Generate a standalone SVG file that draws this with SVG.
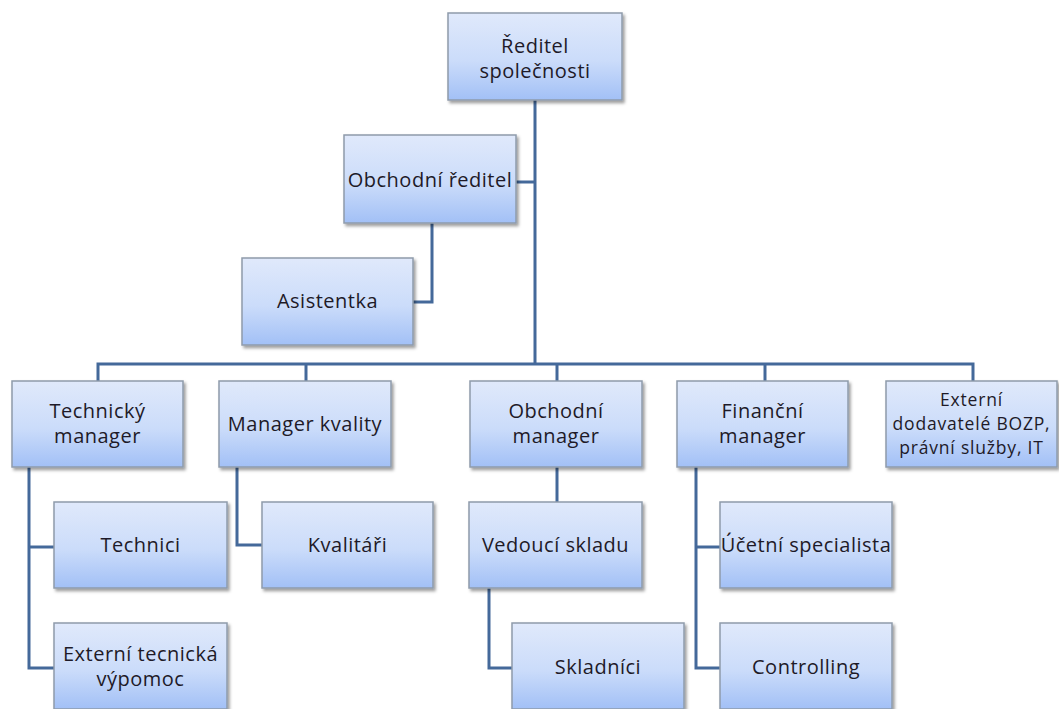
<svg xmlns="http://www.w3.org/2000/svg" width="1059" height="709" viewBox="0 0 1059 709">
  <defs>
    <linearGradient id="g" x1="0" y1="0" x2="0" y2="1">
      <stop offset="0" stop-color="#e0e9fb"/>
      <stop offset="0.55" stop-color="#cbdcfa"/>
      <stop offset="1" stop-color="#a2c0f6"/>
    </linearGradient>
    <filter id="sh" x="-10%" y="-10%" width="125%" height="130%">
      <feDropShadow dx="2" dy="2.5" stdDeviation="1.8" flood-color="#000" flood-opacity="0.38"/>
    </filter>
  </defs>
  <style>
    .box{fill:url(#g);stroke:#8e9bab;stroke-width:1.5;filter:url(#sh)}
    .t{font-family:"Open Sans","Liberation Sans",sans-serif;font-size:20px;letter-spacing:0.5px;fill:#1e1a28;text-anchor:middle}
    .t3{font-size:17.5px;letter-spacing:0.8px}
    .c{fill:none;stroke:#44699a;stroke-width:3}
  </style>
  <rect width="1059" height="709" fill="#ffffff"/>
  <g id="connectors">
    <path class="c" d="M535 100V364"/>
    <path class="c" d="M516 182H535"/>
    <path class="c" d="M432 223V302H413"/>
    <path class="c" d="M98 381V364H973V381"/>
    <path class="c" d="M306 364V381"/>
    <path class="c" d="M557 364V381"/>
    <path class="c" d="M765 364V381"/>
    <path class="c" d="M29 467V668H54"/>
    <path class="c" d="M29 547H54"/>
    <path class="c" d="M237 467V545H262"/>
    <path class="c" d="M557 467V502"/>
    <path class="c" d="M489 588V668H512"/>
    <path class="c" d="M696 467V668H720"/>
    <path class="c" d="M696 547H720"/>
  </g>
  <g id="n-reditel">
    <rect class="box" x="448" y="13" width="174" height="87"/>
    <text class="t" x="535" y="53">Ředitel</text>
    <text class="t" x="535" y="78">společnosti</text>
  </g>
  <g id="n-obchodni-reditel">
    <rect class="box" x="344" y="135" width="172" height="88"/>
    <text class="t" x="430" y="187">Obchodní ředitel</text>
  </g>
  <g id="n-asistentka">
    <rect class="box" x="242" y="258" width="171" height="87"/>
    <text class="t" x="327.5" y="308">Asistentka</text>
  </g>
  <g id="n-technicky">
    <rect class="box" x="12" y="381" width="171" height="86"/>
    <text class="t" x="97.5" y="418">Technický</text>
    <text class="t" x="97.5" y="443">manager</text>
  </g>
  <g id="n-kvalita">
    <rect class="box" x="219" y="381" width="172" height="86"/>
    <text class="t" x="305" y="431">Manager kvality</text>
  </g>
  <g id="n-obchodni-manager">
    <rect class="box" x="470" y="381" width="172" height="86"/>
    <text class="t" x="556" y="418">Obchodní</text>
    <text class="t" x="556" y="443">manager</text>
  </g>
  <g id="n-financni">
    <rect class="box" x="677" y="381" width="171" height="86"/>
    <text class="t" x="762.5" y="418">Finanční</text>
    <text class="t" x="762.5" y="443">manager</text>
  </g>
  <g id="n-externi-dodavatele">
    <rect class="box" x="886" y="381" width="171" height="86"/>
    <text class="t t3" x="971.5" y="406">Externí</text>
    <text class="t t3" x="971.5" y="430">dodavatelé BOZP,</text>
    <text class="t t3" x="971.5" y="454">právní služby, IT</text>
  </g>
  <g id="n-technici">
    <rect class="box" x="54" y="502" width="173" height="86"/>
    <text class="t" x="140.5" y="552">Technici</text>
  </g>
  <g id="n-kvalitari">
    <rect class="box" x="262" y="502" width="171" height="86"/>
    <text class="t" x="347.5" y="552">Kvalitáři</text>
  </g>
  <g id="n-vedouci">
    <rect class="box" x="469" y="502" width="173" height="86"/>
    <text class="t" x="555.5" y="552">Vedoucí skladu</text>
  </g>
  <g id="n-ucetni">
    <rect class="box" x="720" y="502" width="172" height="86"/>
    <text class="t" x="806" y="552">Účetní specialista</text>
  </g>
  <g id="n-externi-tech">
    <rect class="box" x="54" y="623" width="173" height="86"/>
    <text class="t" x="140.5" y="661">Externí tecnická</text>
    <text class="t" x="140.5" y="686">výpomoc</text>
  </g>
  <g id="n-skladnici">
    <rect class="box" x="512" y="623" width="172" height="86"/>
    <text class="t" x="598" y="674">Skladníci</text>
  </g>
  <g id="n-controlling">
    <rect class="box" x="720" y="623" width="172" height="86"/>
    <text class="t" x="806" y="674">Controlling</text>
  </g>
</svg>
